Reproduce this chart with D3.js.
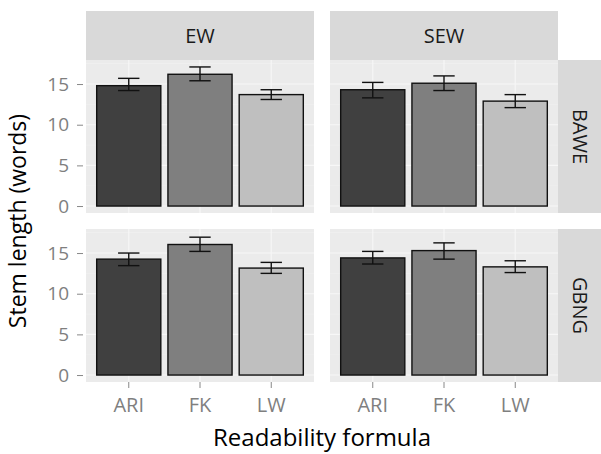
<!DOCTYPE html>
<html>
<head>
<meta charset="utf-8">
<script src="https://cdn.jsdelivr.net/npm/d3@7/dist/d3.min.js"></script>
<style>
  body { margin: 0; background: #fff; }
  svg { font-family: "Open Sans", "Noto Sans", sans-serif; }
</style>
</head>
<body>
<div id="chart"></div>
<script>
// Categories
var formulas = ["ARI", "FK", "LW"];
var columns = ["EW", "SEW"];
var rows = ["BAWE", "GBNG"];
var yTicks = [0, 5, 10, 15];
var yMinor = [2.5, 7.5, 12.5, 17.5];

// Mean stem length per formula (ARI, FK, LW)
var meanBaweEw = [14.8, 16.2, 13.7];
var meanBaweSew = [14.3, 15.1, 12.9];
var meanGbngEw = [14.25, 16.05, 13.15];
var meanGbngSew = [14.4, 15.3, 13.3];

// Error bar limits
var lowBaweEw = [14.2, 15.4, 13.1];
var highBaweEw = [15.7, 17.1, 14.3];
var lowBaweSew = [13.3, 14.2, 12.1];
var highBaweSew = [15.2, 16.0, 13.7];
var lowGbngEw = [13.45, 15.2, 12.5];
var highGbngEw = [15.0, 16.95, 13.85];
var lowGbngSew = [13.65, 14.25, 12.6];
var highGbngSew = [15.2, 16.25, 14.05];

var fills = ["#404040", "#7f7f7f", "#bfbfbf"];

// Panel table built from the arrays above
var panels = [
	{row: 0, col: 0, mean: meanBaweEw, low: lowBaweEw, high: highBaweEw},
	{row: 0, col: 1, mean: meanBaweSew, low: lowBaweSew, high: highBaweSew},
	{row: 1, col: 0, mean: meanGbngEw, low: lowGbngEw, high: highGbngEw},
	{row: 1, col: 1, mean: meanGbngSew, low: lowGbngSew, high: highGbngSew}
];

var W = 601, H = 454;
var colX = [86, 330], panelW = 228;
var rowY = [60, 229], panelH = 153;
var stripTop = 11, stripRight = 601;

var svg = d3.select("#chart").append("svg")
	.attr("width", W)
	.attr("height", H);

// Shared scales
var x = d3.scaleBand()
	.domain(formulas)
	.range([0, panelW])
	.paddingInner(0.1)
	.paddingOuter(0.15);

var yMax = d3.max(panels, function(p) { return d3.max(p.high); });
var y = d3.scaleLinear()
	.domain([-yMax * 0.05, yMax * 1.05])
	.range([panelH, 0]);

// Column strips
columns.forEach(function(c, i) {
	svg.append("rect")
		.attr("x", colX[i]).attr("y", stripTop)
		.attr("width", panelW).attr("height", rowY[0] - stripTop)
		.attr("fill", "#d9d9d9");
	svg.append("text")
		.attr("x", colX[i] + panelW / 2).attr("y", (stripTop + rowY[0]) / 2)
		.attr("text-anchor", "middle").attr("dy", "0.35em")
		.attr("font-size", 20).attr("fill", "#1a1a1a")
		.text(c);
});

// Row strips
rows.forEach(function(r, i) {
	var sx = colX[1] + panelW;
	svg.append("rect")
		.attr("x", sx).attr("y", rowY[i])
		.attr("width", stripRight - sx).attr("height", panelH)
		.attr("fill", "#d9d9d9");
	svg.append("text")
		.attr("transform", "translate(" + ((sx + stripRight) / 2) + "," + (rowY[i] + panelH / 2) + ") rotate(90)")
		.attr("text-anchor", "middle").attr("dy", "0.35em")
		.attr("font-size", 20).attr("fill", "#1a1a1a")
		.text(r);
});

panels.forEach(function(p) {
	var g = svg.append("g")
		.attr("transform", "translate(" + colX[p.col] + "," + rowY[p.row] + ")");

	g.append("rect")
		.attr("width", panelW).attr("height", panelH)
		.attr("fill", "#ebebeb");

	// minor grid
	g.selectAll(".minor").data(yMinor).enter().append("line")
		.attr("x1", 0).attr("x2", panelW)
		.attr("y1", function(d) { return y(d); })
		.attr("y2", function(d) { return y(d); })
		.attr("stroke", "#f2f2f2").attr("stroke-width", 0.6);

	// major grid
	g.selectAll(".major").data(yTicks).enter().append("line")
		.attr("x1", 0).attr("x2", panelW)
		.attr("y1", function(d) { return y(d); })
		.attr("y2", function(d) { return y(d); })
		.attr("stroke", "#f7f7f7").attr("stroke-width", 1.1);

	g.selectAll(".vgrid").data(formulas).enter().append("line")
		.attr("x1", function(d) { return x(d) + x.bandwidth() / 2; })
		.attr("x2", function(d) { return x(d) + x.bandwidth() / 2; })
		.attr("y1", 0).attr("y2", panelH)
		.attr("stroke", "#f7f7f7").attr("stroke-width", 1.1);

	// bars
	g.selectAll(".bar").data(formulas).enter().append("rect")
		.attr("x", function(d) { return x(d); })
		.attr("y", function(d, i) { return y(p.mean[i]); })
		.attr("width", x.bandwidth())
		.attr("height", function(d, i) { return y(0) - y(p.mean[i]); })
		.attr("fill", function(d, i) { return fills[i]; })
		.attr("stroke", "#111").attr("stroke-width", 1.4);

	// error bars
	var cap = x.step() * 0.3;
	formulas.forEach(function(f, i) {
		var cx = x(f) + x.bandwidth() / 2;
		var eb = g.append("g").attr("stroke", "#111").attr("stroke-width", 1.4).attr("fill", "none");
		eb.append("line").attr("x1", cx).attr("x2", cx)
			.attr("y1", y(p.low[i])).attr("y2", y(p.high[i]));
		eb.append("line").attr("x1", cx - cap / 2).attr("x2", cx + cap / 2)
			.attr("y1", y(p.low[i])).attr("y2", y(p.low[i]));
		eb.append("line").attr("x1", cx - cap / 2).attr("x2", cx + cap / 2)
			.attr("y1", y(p.high[i])).attr("y2", y(p.high[i]));
	});

	// y axis on left column
	if (p.col === 0) {
		var ya = g.append("g")
			.call(d3.axisLeft(y).tickValues(yTicks).tickSize(6).tickPadding(11));
		ya.select(".domain").remove();
		ya.selectAll("line").attr("stroke", "#888").attr("transform", "translate(-3,0)");
		ya.selectAll("text").attr("font-size", 19).attr("fill", "#7f7f7f")
			.attr("font-family", "Open Sans, sans-serif");
	}
	// x axis on bottom row
	if (p.row === 1) {
		var xa = g.append("g")
			.attr("transform", "translate(0," + panelH + ")")
			.call(d3.axisBottom(x).tickSize(6).tickPadding(10));
		xa.select(".domain").remove();
		xa.selectAll("line").attr("stroke", "#888");
		xa.selectAll("text").attr("font-size", 20).attr("fill", "#7f7f7f")
			.attr("font-family", "Open Sans, sans-serif");
	}
});

// Axis titles
svg.append("text")
	.attr("x", (colX[0] + colX[1] + panelW) / 2).attr("y", 446)
	.attr("text-anchor", "middle")
	.attr("font-size", 24).attr("fill", "#000")
	.text("Readability formula");

svg.append("text")
	.attr("transform", "translate(26," + ((rowY[0] + rowY[1] + panelH) / 2) + ") rotate(-90)")
	.attr("text-anchor", "middle")
	.attr("font-size", 23).attr("fill", "#000")
	.text("Stem length (words)");
</script>
</body>
</html>
